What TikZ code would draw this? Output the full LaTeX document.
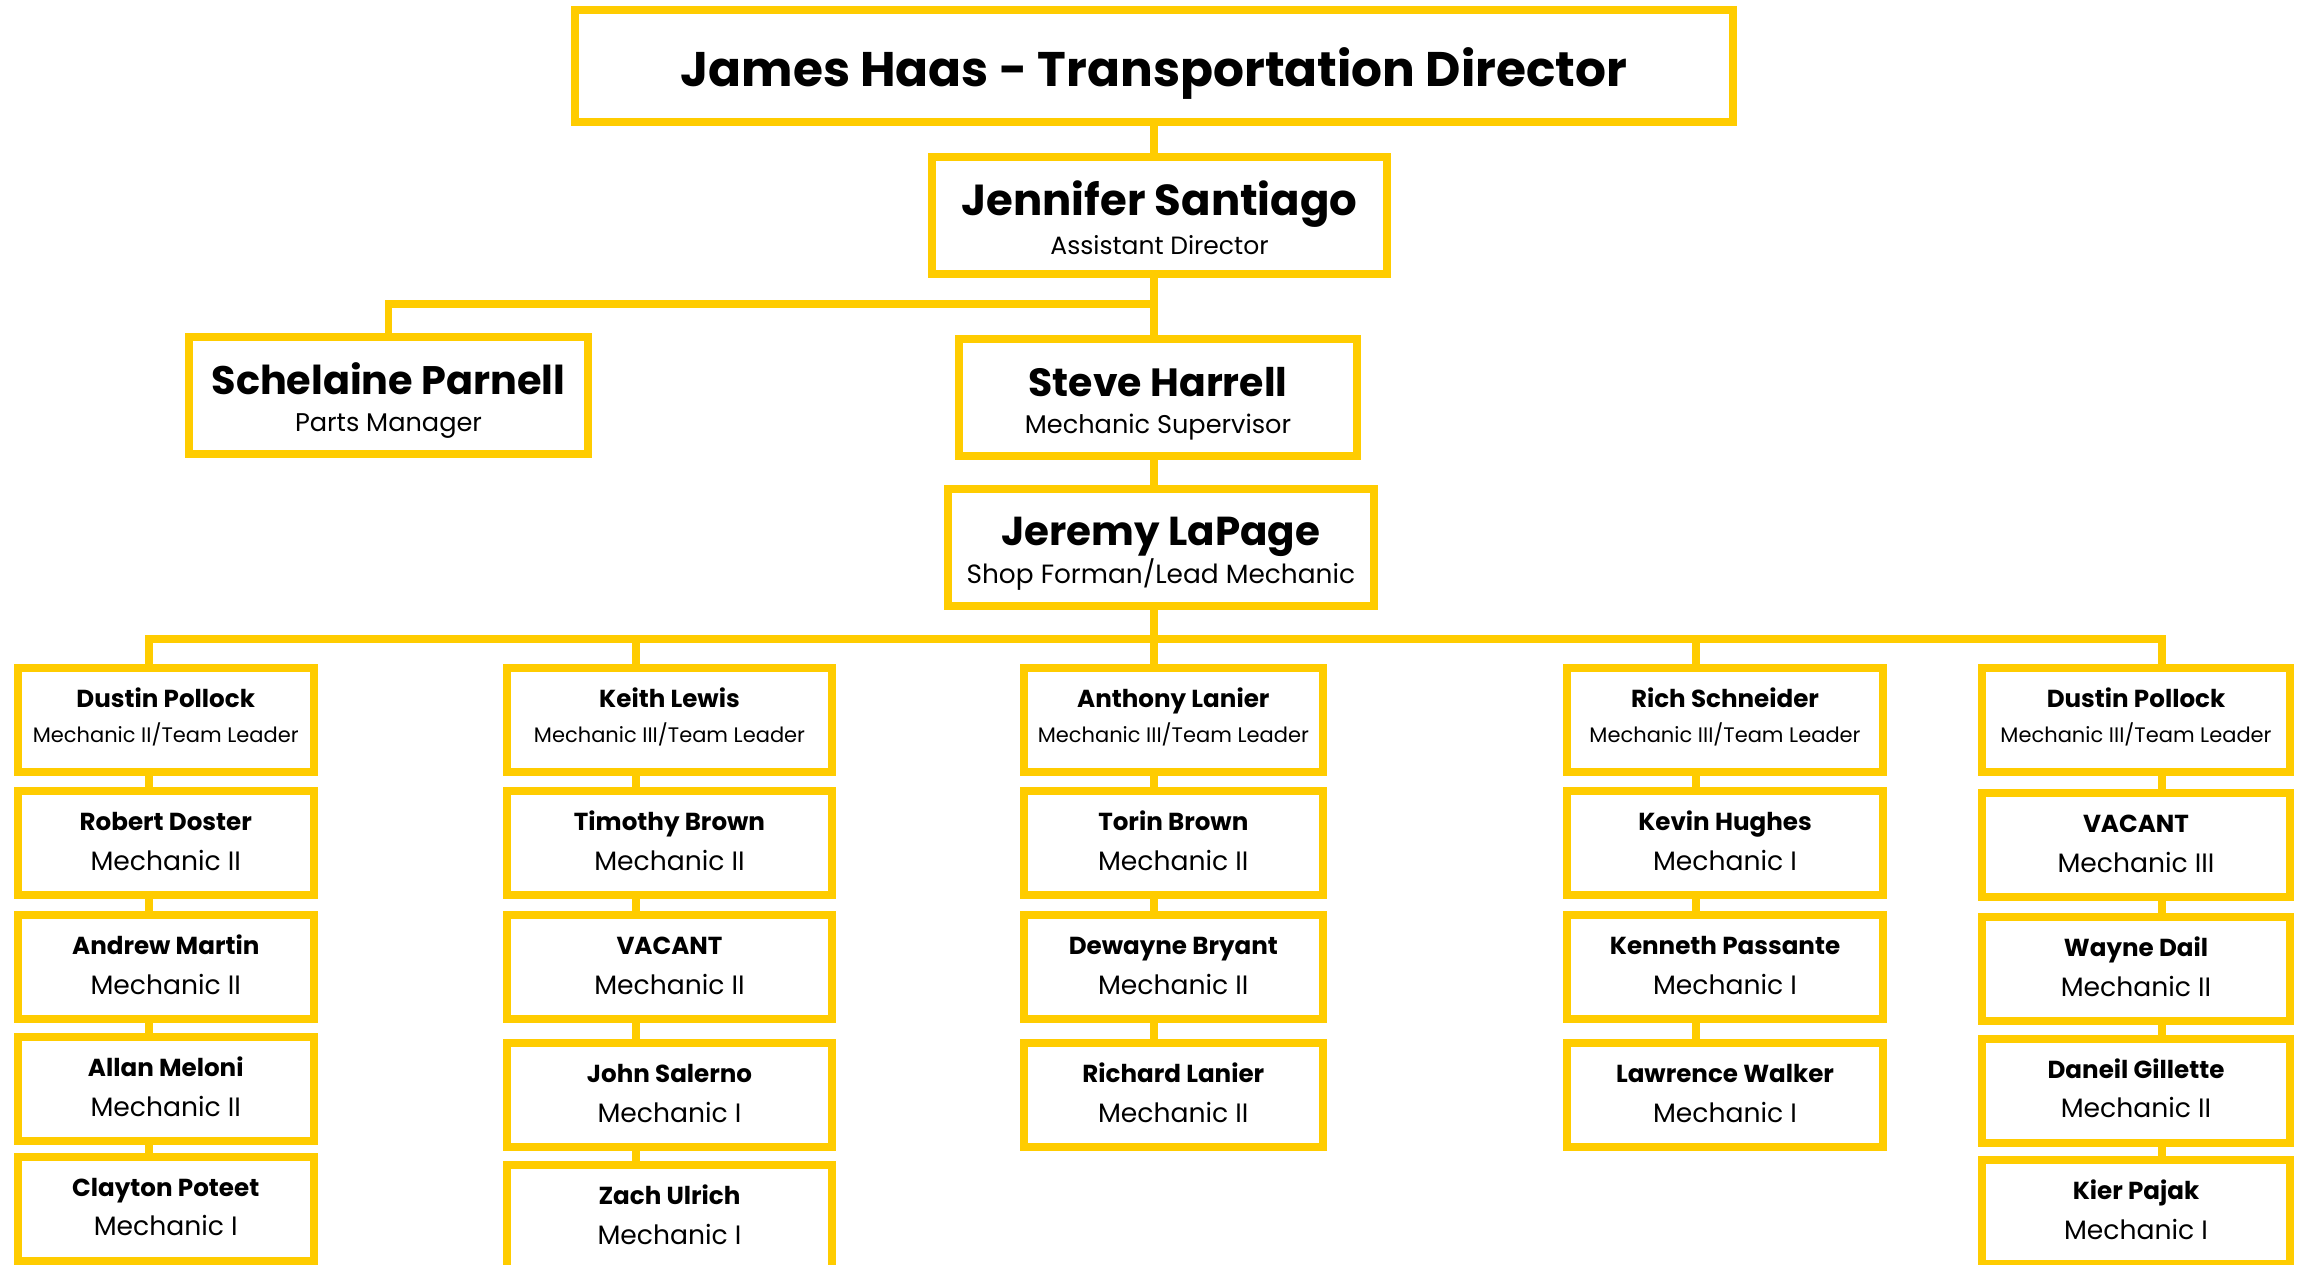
\documentclass[tikz,border=0pt]{standalone}
\usepackage{fontspec}
\setmainfont{Poppins}
\usetikzlibrary{backgrounds}
\definecolor{gold}{RGB}{255,204,0}
\newcommand{\bossname}[2][20]{{\fontsize{#1}{#1}\selectfont\bfseries #2}}
\newcommand{\crewname}[1]{{\fontsize{12.3}{12.3}\selectfont\bfseries #1}}

\begin{document}
\begin{tikzpicture}[x=0.5pt,y=-0.5pt,
  box/.style={draw=gold,line width=4pt,fill=white,inner sep=0pt,align=center},
  wire/.style={draw=gold,line width=3.75pt},
  head/.style={box,minimum height=58.5pt,font=\fontsize{12.8}{19}\selectfont,text depth=3pt},
  lead/.style={box,minimum height=52pt,font=\fontsize{10.5}{17.5}\selectfont,text height=25.3pt,text depth=3pt},
  crew/.style={box,minimum height=52pt,font=\fontsize{13.3}{19.7}\selectfont,text height=30.2pt,text depth=3pt}]
\useasboundingbox (0,0) rectangle (2301,1264);
% management
\node[box,minimum width=578.85pt,minimum height=55.85pt,text height=20.15pt,text depth=0pt,font=\fontsize{24.3}{24.3}\selectfont\bfseries] (dir) at (1153.85,65.85) {James Haas - Transportation Director};
\node[head,minimum width=227.5pt,text height=41.5pt,font=\fontsize{12.5}{19.5}\selectfont] (jen) at (1159.5,215.5) {\bossname[21.7]{Jennifer Santiago}\\Assistant Director};
\node[head,minimum width=199.5pt,text height=38.5pt,font=\fontsize{12.8}{18.5}\selectfont] (sch) at (388.5,395.5) {\bossname[19.9]{Schelaine Parnell}\\Parts Manager};
\node[head,minimum width=199pt,text height=38.8pt,font=\fontsize{12.8}{18.3}\selectfont] (ste) at (1158,397.5) {\bossname[19.7]{Steve Harrell}\\Mechanic Supervisor};
\node[head,minimum width=212.85pt,text height=38.8pt,font=\fontsize{13.2}{18.7}\selectfont] (jer) at (1160.85,547.5) {\bossname[20.2]{Jeremy LaPage}\\Shop Forman/Lead Mechanic};
\coordinate (sp) at (1154,304);
\coordinate (bus) at (1154,639);
\coordinate (k1) at (149,639);
\coordinate (k2) at (636,639);
\coordinate (k4) at (1696,639);
\coordinate (k5) at (2162,639);
% first column
\node[lead,minimum width=147.75pt] (a1) at (165.75,720) {\crewname{Dustin Pollock}\\Mechanic II/Team Leader};
\node[crew,minimum width=147.75pt] (a2) at (165.75,843) {\crewname{Robert Doster}\\Mechanic II};
\node[crew,minimum width=147.75pt] (a3) at (165.75,967) {\crewname{Andrew Martin}\\Mechanic II};
\node[crew,minimum width=147.75pt] (a4) at (165.75,1089) {\crewname{Allan Meloni}\\Mechanic II};
\node[crew,minimum width=147.75pt] (a5) at (165.75,1208.5) {\crewname{Clayton Poteet}\\Mechanic I};
% second column
\node[lead,minimum width=162.5pt] (b1) at (669.5,720) {\crewname{Keith Lewis}\\Mechanic III/Team Leader};
\node[crew,minimum width=162.5pt] (b2) at (669.5,843) {\crewname{Timothy Brown}\\Mechanic II};
\node[crew,minimum width=162.5pt] (b3) at (669.5,967) {\crewname{VACANT}\\Mechanic II};
\node[crew,minimum width=162.5pt] (b4) at (669.5,1095) {\crewname{John Salerno}\\Mechanic I};
\node[crew,minimum width=162.5pt] (b5) at (669.5,1217) {\crewname{Zach Ulrich}\\Mechanic I};
% third column
\node[lead,minimum width=149.3pt] (c1) at (1173.3,720) {\crewname{Anthony Lanier}\\Mechanic III/Team Leader};
\node[crew,minimum width=149.3pt] (c2) at (1173.3,843) {\crewname{Torin Brown}\\Mechanic II};
\node[crew,minimum width=149.3pt] (c3) at (1173.3,967) {\crewname{Dewayne Bryant}\\Mechanic II};
\node[crew,minimum width=149.3pt] (c4) at (1173.3,1095) {\crewname{Richard Lanier}\\Mechanic II};
% fourth column
\node[lead,minimum width=158pt] (d1) at (1725,720) {\crewname{Rich Schneider}\\Mechanic III/Team Leader};
\node[crew,minimum width=158pt] (d2) at (1725,843) {\crewname{Kevin Hughes}\\Mechanic I};
\node[crew,minimum width=158pt] (d3) at (1725,967) {\crewname{Kenneth Passante}\\Mechanic I};
\node[crew,minimum width=158pt] (d4) at (1725,1095) {\crewname{Lawrence Walker}\\Mechanic I};
% fifth column
\node[lead,minimum width=154pt] (e1) at (2136,720) {\crewname{Dustin Pollock}\\Mechanic III/Team Leader};
\node[crew,minimum width=154pt] (e2) at (2136,845) {\crewname{VACANT}\\Mechanic III};
\node[crew,minimum width=154pt] (e3) at (2136,969) {\crewname{Wayne Dail}\\Mechanic II};
\node[crew,minimum width=154pt] (e4) at (2136,1090.5) {\crewname{Daneil Gillette}\\Mechanic II};
\node[crew,minimum width=154pt] (e5) at (2136,1212) {\crewname{Kier Pajak}\\Mechanic I};
\begin{scope}[on background layer]
% spine
\draw[wire] (sp |- dir.south) -- (sp |- jen.north);
\draw[wire] (sp |- jen.south) -- (sp |- ste.north);
\draw[wire] (sch.north) |- (sp);
\draw[wire] (sp |- ste.south) -- (sp |- jer.north);
\draw[wire] (sp |- jer.south) -- (bus) -- (bus |- c1.north);
\draw[wire] (k1 |- a1.north) -- (k1) -- (k5) -- (k5 |- e1.north);
\draw[wire] (k2) -- (k2 |- b1.north);
\draw[wire] (k4) -- (k4 |- d1.north);
% inside the columns
\draw[wire] (k1 |- a1.south) -- (k1 |- a2.north);
\draw[wire] (k1 |- a2.south) -- (k1 |- a3.north);
\draw[wire] (k1 |- a3.south) -- (k1 |- a4.north);
\draw[wire] (k1 |- a4.south) -- (k1 |- a5.north);
\draw[wire] (k2 |- b1.south) -- (k2 |- b2.north);
\draw[wire] (k2 |- b2.south) -- (k2 |- b3.north);
\draw[wire] (k2 |- b3.south) -- (k2 |- b4.north);
\draw[wire] (k2 |- b4.south) -- (k2 |- b5.north);
\draw[wire] (bus |- c1.south) -- (bus |- c2.north);
\draw[wire] (bus |- c2.south) -- (bus |- c3.north);
\draw[wire] (bus |- c3.south) -- (bus |- c4.north);
\draw[wire] (k4 |- d1.south) -- (k4 |- d2.north);
\draw[wire] (k4 |- d2.south) -- (k4 |- d3.north);
\draw[wire] (k4 |- d3.south) -- (k4 |- d4.north);
\draw[wire] (k5 |- e1.south) -- (k5 |- e2.north);
\draw[wire] (k5 |- e2.south) -- (k5 |- e3.north);
\draw[wire] (k5 |- e3.south) -- (k5 |- e4.north);
\draw[wire] (k5 |- e4.south) -- (k5 |- e5.north);
\end{scope}
\end{tikzpicture}
\end{document}
